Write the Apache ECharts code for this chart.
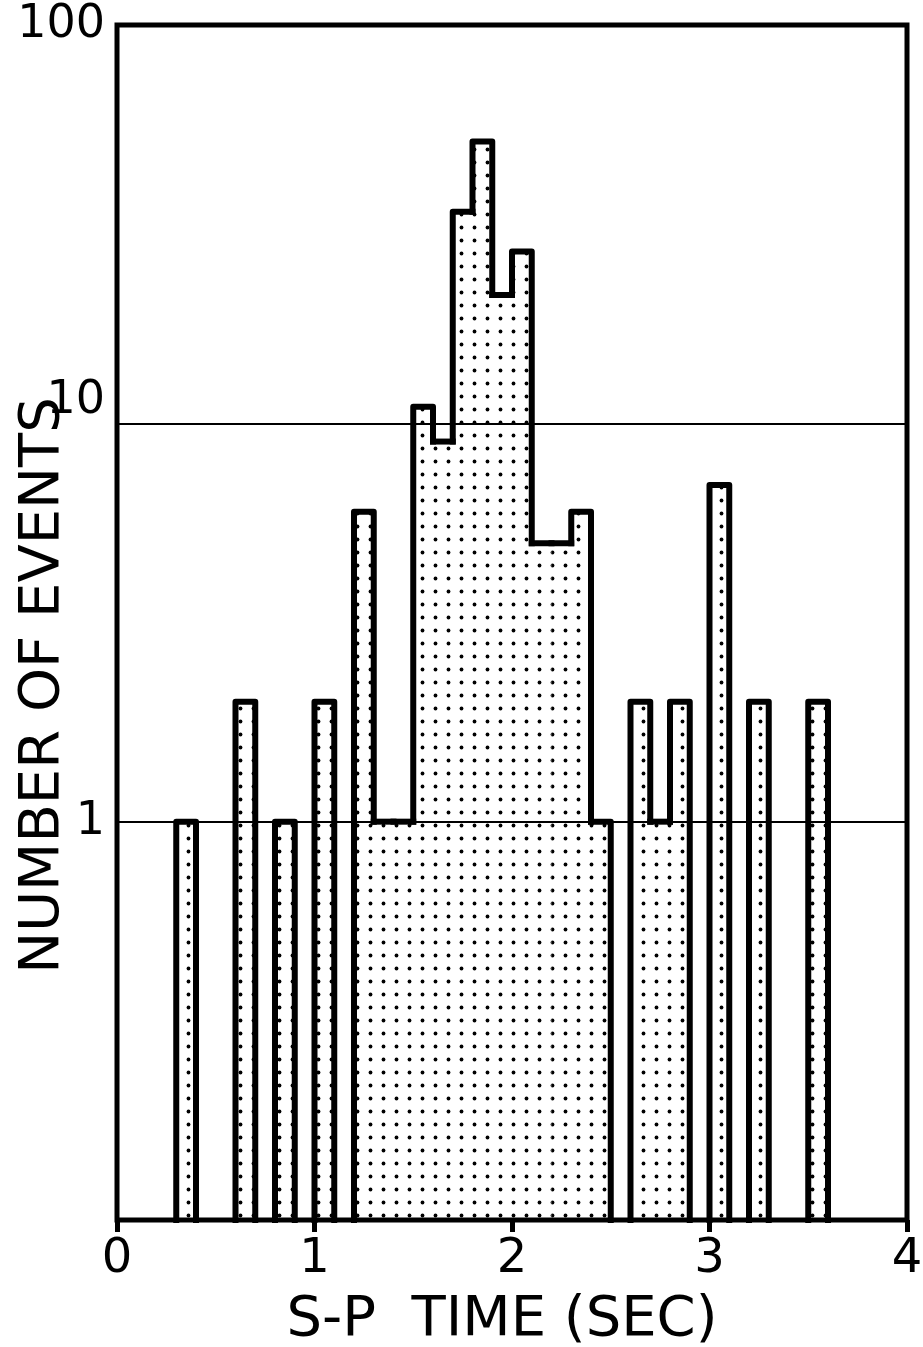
<!DOCTYPE html>
<html>
<head>
<meta charset="utf-8">
<script src="https://cdn.jsdelivr.net/npm/echarts@6/dist/echarts.min.js"></script>
<style>
  html, body { margin: 0; padding: 0; background: #fff; }
  #chart { width: 923px; height: 1347px; }
</style>
</head>
<body>
<div id="chart"></div>
<script>
// ---- data ----
const binStarts = [0.3, 0.6, 0.8, 1.0, 1.2, 1.3, 1.4, 1.5, 1.6, 1.7, 1.8, 1.9, 2.0, 2.1, 2.2, 2.3, 2.4, 2.6, 2.7, 2.8, 3.0, 3.2, 3.5];
const counts    = [1,   2,   1,   2,   6,   1,   1,   11,  9,   34,  51,  21,  27,  5,   5,   6,   1,   2,   1,   2,   7,   2,   2];
const binWidth = 0.1;
const xTicks = [0, 1, 2, 3, 4];
const yTickLabels = ['1', '10', '100'];
const xName = 'S-P  TIME (SEC)';
const yName = 'NUMBER OF EVENTS';
const baseline = 0.1;

// neighbour counts for the stepped outline
const key = v => Math.round(v * 10);
const countByBin = {};
binStarts.forEach((s, i) => { countByBin[key(s)] = counts[i]; });
const seriesData = binStarts.map((s, i) => {
  const prev = countByBin[key(s) - 1];
  const next = countByBin[key(s) + 1];
  return [s, counts[i], prev == null ? baseline : prev, next == null ? baseline : next];
});

// dot pattern
const tile = document.createElement('canvas');
tile.width = 13; tile.height = 13;
const tctx = tile.getContext('2d');
tctx.fillStyle = '#000';
tctx.beginPath();
tctx.arc(6.5, 6.5, 1.9, 0, Math.PI * 2);
tctx.fill();

const FONT = 'DejaVu Sans';
const chart = echarts.init(document.getElementById('chart'), null, { renderer: 'canvas' });

chart.setOption({
  backgroundColor: '#fff',
  animation: false,
  grid: {
    left: 117, right: 16, top: 25, bottom: 127,
    containLabel: false, outerBoundsMode: 'none',
    show: true, borderColor: '#000', borderWidth: 5, backgroundColor: 'transparent'
  },
  xAxis: {
    type: 'value', min: 0, max: 4, interval: 1,
    name: xName, nameLocation: 'middle', nameGap: 72, nameMoveOverlap: false,
    nameTextStyle: { fontFamily: FONT, fontSize: 56, color: '#000', padding: [0, 20, 0, 0] },
    axisLine: { show: false },
    axisTick: { show: true, length: 12, lineStyle: { color: '#000', width: 5 } },
    axisLabel: {
      fontFamily: FONT, fontSize: 48, color: '#000', margin: 16,
      formatter: v => xTicks.indexOf(v) >= 0 ? String(v) : ''
    },
    splitLine: { show: false }
  },
  yAxis: {
    type: 'log', logBase: 10, min: 0.1, max: 100,
    name: yName, nameLocation: 'middle', nameRotate: 90, nameGap: 46, nameMoveOverlap: false,
    nameTextStyle: { fontFamily: FONT, fontSize: 56, color: '#000', padding: [0, 126, 0, 0] },
    axisLine: { show: false },
    axisTick: { show: false },
    axisLabel: {
      fontFamily: FONT, fontSize: 46, color: '#000', margin: 12,
      formatter: v => {
        const s = String(Math.round(v));
        if (v < 0.5 || yTickLabels.indexOf(s) < 0) return '';
        return s === '10' ? '{up|' + s + '}' : s;
      },
      rich: { up: { fontFamily: FONT, fontSize: 46, color: '#000', padding: [0, 0, 44, 0] } }
    },
    splitLine: { show: true, lineStyle: { color: '#000', width: 2 } }
  },
  series: [{
    type: 'custom',
    data: seriesData,
    clip: false,
    renderItem: function (params, api) {
      const x0 = api.value(0), v = api.value(1), prev = api.value(2), next = api.value(3);
      const x1 = x0 + binWidth;
      const pBL = api.coord([x0, baseline]);
      const pTR = api.coord([x1, v]);
      const lowL = prev < v ? prev : v;
      const lowR = next < v ? next : v;
      const pts = [
        api.coord([x0, lowL]),
        api.coord([x0, v]),
        api.coord([x1, v]),
        api.coord([x1, lowR])
      ];
      return {
        type: 'group',
        children: [
          {
            type: 'rect',
            shape: { x: pBL[0], y: pTR[1], width: pTR[0] - pBL[0], height: pBL[1] - pTR[1] },
            style: { fill: { image: tile, repeat: 'repeat' }, stroke: null }
          },
          {
            type: 'polyline',
            shape: { points: pts },
            style: { stroke: '#000', lineWidth: 6, fill: null, lineJoin: 'round', lineCap: 'square' }
          }
        ]
      };
    }
  }]
});
</script>
</body>
</html>
